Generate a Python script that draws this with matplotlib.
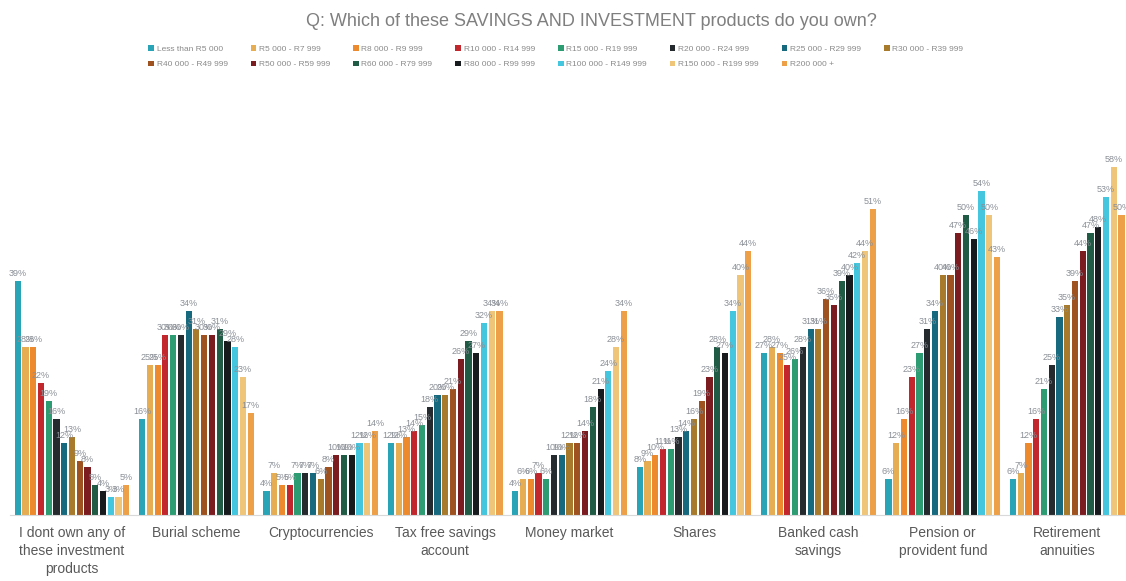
import matplotlib
matplotlib.use("Agg")
import matplotlib.pyplot as plt
import numpy as np

plt.rcParams['font.family'] = ['Liberation Sans', 'DejaVu Sans']

categories = ["I dont own any of\nthese investment\nproducts", "Burial scheme", "Cryptocurrencies",
              "Tax free savings\naccount", "Money market", "Shares", "Banked cash\nsavings",
              "Pension or\nprovident fund", "Retirement\nannuities"]

series_names = ["Less than R5 000", "R5 000 - R7 999", "R8 000 - R9 999", "R10 000 - R14 999",
                "R15 000 - R19 999", "R20 000 - R24 999", "R25 000 - R29 999", "R30 000 - R39 999",
                "R40 000 - R49 999", "R50 000 - R59 999", "R60 000 - R79 999", "R80 000 - R99 999",
                "R100 000 - R149 999", "R150 000 - R199 999", "R200 000 +"]

# values per series (one value per category, in category order)
less_5k   = [39, 16, 4, 12, 4, 8, 27, 6, 6]
r5_8k     = [28, 25, 7, 12, 6, 9, 28, 12, 7]
r8_10k    = [28, 25, 5, 13, 6, 10, 27, 16, 12]
r10_15k   = [22, 30, 5, 14, 7, 11, 25, 23, 16]
r15_20k   = [19, 30, 7, 15, 6, 11, 26, 27, 21]
r20_25k   = [16, 30, 7, 18, 10, 13, 28, 31, 25]
r25_30k   = [12, 34, 7, 20, 10, 14, 31, 34, 33]
r30_40k   = [13, 31, 6, 20, 12, 16, 31, 40, 35]
r40_50k   = [9, 30, 8, 21, 12, 19, 36, 40, 39]
r50_60k   = [8, 30, 10, 26, 14, 23, 35, 47, 44]
r60_80k   = [5, 31, 10, 29, 18, 28, 39, 50, 47]
r80_100k  = [4, 29, 10, 27, 21, 27, 40, 46, 48]
r100_150k = [3, 28, 12, 32, 24, 34, 42, 54, 53]
r150_200k = [3, 23, 12, 34, 28, 40, 44, 50, 58]
r200k_up  = [5, 17, 14, 34, 34, 44, 51, 43, 50]

series_values = [less_5k, r5_8k, r8_10k, r10_15k, r15_20k, r20_25k, r25_30k, r30_40k,
                 r40_50k, r50_60k, r60_80k, r80_100k, r100_150k, r150_200k, r200k_up]

colors = ["#29a3b6", "#e6ad52", "#ee8a2e", "#c1272d", "#2e9c73", "#252a2f", "#17697d",
          "#a77a2c", "#9e5220", "#7b1c21", "#1f5b45", "#181b1e", "#43c6de", "#efc57a", "#eea048"]

fig = plt.figure(figsize=(11.26, 5.81), dpi=100)
ax = fig.add_axes([0.0087, 0.1136, 0.9943, 0.6713])

n = len(series_values)
x = np.arange(len(categories))
group_w = 0.935
step = group_w / n
bw = step * 0.8
handles = []
for i, (vals, col, name) in enumerate(zip(series_values, colors, series_names)):
    pos = x - group_w / 2 + step * (i + 0.5)
    bars = ax.bar(pos, vals, width=bw, color=col, label=name)
    handles.append(bars)
    ax.bar_label(bars, labels=[f"{v}%" for v in vals], padding=2, fontsize=6.5,
                 color="#8a8f96")

ax.set_xlim(-0.5, 8.5)
ax.set_ylim(0, 65)
ax.set_xticks(x)
ax.set_xticklabels(categories, fontsize=10, color="#595959", linespacing=1.35)
ax.tick_params(axis='x', length=0, pad=8)
ax.set_yticks([])
for s in ["top", "right", "left"]:
    ax.spines[s].set_visible(False)
ax.spines["bottom"].set_color("#d9d9d9")

fig.text(0.525, 0.963, "Q: Which of these SAVINGS AND INVESTMENT products do you own?",
         ha="center", va="center", fontsize=13, color="#7f7f7f")

# legend in row-major order: 8 on first row, 7 on second
row1 = list(range(8))
row2 = list(range(8, 15))
order = []
for j in range(7):
    order += [row1[j], row2[j]]
order.append(row1[7])
leg = fig.legend([handles[k] for k in order], [series_names[k] for k in order],
                 ncol=8, loc="upper left", bbox_to_anchor=(0.125, 0.935), frameon=False,
                 fontsize=6, handlelength=0.7, handleheight=0.7, handletextpad=0.3,
                 columnspacing=2.75, labelspacing=0.9, labelcolor="#8a8a8a")

fig.savefig("out.png", dpi=100)
